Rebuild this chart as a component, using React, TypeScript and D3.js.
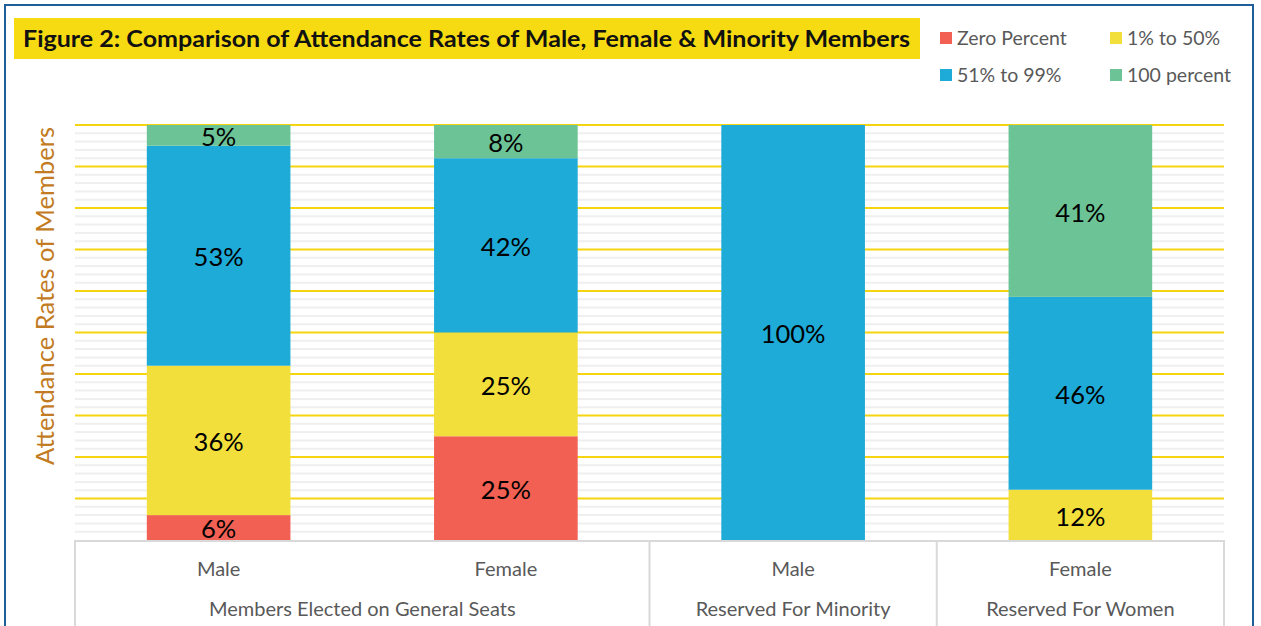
import { useMemo } from "react";
import * as d3 from "d3";

const WIDTH = 1261;
const HEIGHT = 626;
const PLOT = { left: 75, right: 1224, top: 125, bottom: 540 };
const FONT = "Lato, 'Noto Sans', sans-serif";

const categories = ["Male", "Female", "Male", "Female"];
const groups = ["Members Elected on General Seats", "Reserved For Minority", "Reserved For Women"];
const groupOfCategory = [0, 0, 1, 2];

const seriesKeys = ["zero", "low", "mid", "full"];
const seriesNames = ["Zero Percent", "1% to 50%", "51% to 99%", "100 percent"];
const seriesColors = ["#f16052", "#f2df3c", "#1eabd8", "#6cc496"];

const zeroPercent = [6, 25, 0, 0];
const lowPercent = [36, 25, 0, 12];
const midPercent = [53, 42, 100, 46];
const fullPercent = [5, 8, 0, 41];

type Row = { idx: number; zero: number; low: number; mid: number; full: number };

export default function App() {
  const rows: Row[] = categories.map((_, i) => ({
    idx: i,
    zero: zeroPercent[i],
    low: lowPercent[i],
    mid: midPercent[i],
    full: fullPercent[i],
  }));

  // 100% stacked, so the women's bar (99 in total) still fills the axis
  const stacked = useMemo(
    () => d3.stack<Row>().keys(seriesKeys).offset(d3.stackOffsetExpand)(rows),
    []
  );

  const x = d3
    .scaleBand<number>()
    .domain(categories.map((_, i) => i))
    .range([PLOT.left, PLOT.right])
    .paddingInner(0.5)
    .paddingOuter(0.25);
  const y = d3.scaleLinear().domain([0, 1]).range([PLOT.bottom, PLOT.top]);
  const step = x.step();

  const minorTicks = d3.range(0, 1.0001, 0.02).filter((t) => Math.round(t * 100) % 10 !== 0);
  const majorTicks = d3.range(0.1, 1.0001, 0.1);

  // group boundaries along the axis table
  const groupStart = (g: number) => {
    const first = groupOfCategory.indexOf(g);
    return (x(first) as number) - (step - x.bandwidth()) / 2;
  };
  const groupEnd = (g: number) => {
    const last = groupOfCategory.lastIndexOf(g);
    return (x(last) as number) + x.bandwidth() + (step - x.bandwidth()) / 2;
  };

  return (
    <svg
      width={WIDTH}
      height={HEIGHT}
      style={{ position: "absolute", left: 0, top: 0, background: "#fff" }}
    >
      <rect x={5} y={5} width={1248} height={640} fill="#fff" stroke="#1f5f99" strokeWidth={2} />

      {/* title */}
      <rect x={14} y={18} width={906} height={41} fill="#f6db12" />
      <text
        x={23}
        y={47}
        fontFamily={FONT}
        fontWeight="bold"
        fontSize={22}
        fill="#111"
        textLength={887}
        lengthAdjust="spacingAndGlyphs"
      >
        Figure 2: Comparison of Attendance Rates of Male, Female &amp; Minority Members
      </text>

      {/* legend */}
      {seriesNames.map((name, i) => {
        const lx = i % 2 === 0 ? 940 : 1110;
        const ly = i < 2 ? 38 : 75;
        return (
          <g key={name}>
            <rect x={lx} y={ly - 6} width={12} height={12} fill={seriesColors[i]} />
            <text x={lx + 17} y={ly} dy="0.35em" fontFamily={FONT} fontSize={19.5} fill="#595959">
              {name}
            </text>
          </g>
        );
      })}

      {/* gridlines */}
      {minorTicks.map((t) => (
        <line
          key={"m" + t}
          x1={PLOT.left}
          x2={PLOT.right}
          y1={y(t)}
          y2={y(t)}
          stroke="#efefef"
          strokeWidth={2}
        />
      ))}
      {majorTicks.map((t) => (
        <line
          key={"M" + t}
          x1={PLOT.left}
          x2={PLOT.right}
          y1={y(t)}
          y2={y(t)}
          stroke="#f4d50f"
          strokeWidth={2}
        />
      ))}

      {/* bars */}
      {stacked.map((layer, si) =>
        layer.map((d, i) => {
          if (d[1] - d[0] <= 0) return null;
          const x0 = x(i) as number;
          return (
            <g key={si + "-" + i}>
              <rect
                x={x0}
                y={y(d[1])}
                width={x.bandwidth()}
                height={y(d[0]) - y(d[1])}
                fill={seriesColors[si]}
              />
              <text
                x={x0 + x.bandwidth() / 2}
                y={(y(d[0]) + y(d[1])) / 2}
                dy="0.42em"
                textAnchor="middle"
                fontFamily={FONT}
                fontSize={25.5}
                fill="#000"
              >
                {`${(d.data as any)[seriesKeys[si]]}%`}
              </text>
            </g>
          );
        })
      )}

      {/* y axis title */}
      <text
        transform={`translate(54,296) rotate(-90)`}
        textAnchor="middle"
        fontFamily={FONT}
        fontSize={25.5}
        fill="#c27b22"
      >
        Attendance Rates of Members
      </text>

      {/* category axis table */}
      <line x1={PLOT.left} x2={PLOT.right} y1={PLOT.bottom + 1} y2={PLOT.bottom + 1} stroke="#d9d9d9" strokeWidth={2} />
      {groups.map((g, gi) => (
        <g key={g}>
          <line
            x1={groupStart(gi)}
            x2={groupStart(gi)}
            y1={PLOT.bottom}
            y2={HEIGHT}
            stroke="#d9d9d9"
            strokeWidth={2}
          />
          <text
            x={(groupStart(gi) + groupEnd(gi)) / 2}
            y={609}
            dy="0.35em"
            textAnchor="middle"
            fontFamily={FONT}
            fontSize={20}
            fill="#595959"
          >
            {g}
          </text>
        </g>
      ))}
      <line x1={PLOT.right} x2={PLOT.right} y1={PLOT.bottom} y2={HEIGHT} stroke="#d9d9d9" strokeWidth={2} />
      {categories.map((c, i) => (
        <text
          key={"c" + i}
          x={(x(i) as number) + x.bandwidth() / 2}
          y={569}
          dy="0.35em"
          textAnchor="middle"
          fontFamily={FONT}
          fontSize={20}
          fill="#595959"
        >
          {c}
        </text>
      ))}
    </svg>
  );
}
